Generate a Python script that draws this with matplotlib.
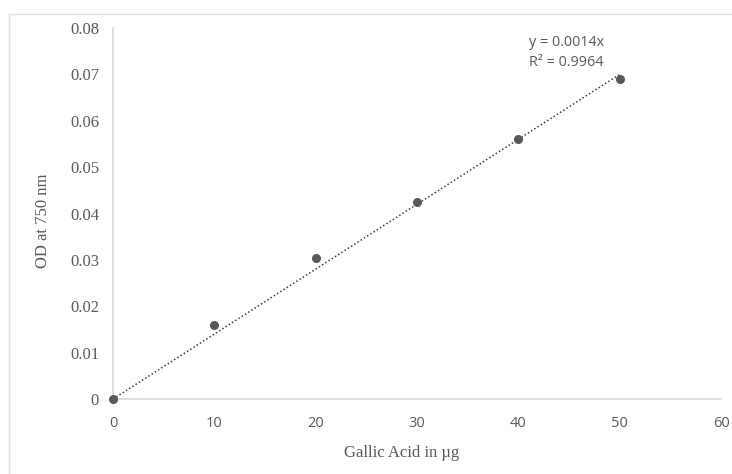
import matplotlib
matplotlib.use("Agg")
import matplotlib.pyplot as plt
from matplotlib.lines import Line2D
import numpy as np

x_vals = [0, 10, 20, 30, 40, 50]
y_vals = [0.0, 0.016, 0.0305, 0.0425, 0.056, 0.069]
slope = 0.0014
eq_text = "y = 0.0014x"
r2_text = "R² = 0.9964"
x_ticks = [0, 10, 20, 30, 40, 50, 60]
y_ticks = [0, 0.01, 0.02, 0.03, 0.04, 0.05, 0.06, 0.07, 0.08]
y_tick_labels = ["0", "0.01", "0.02", "0.03", "0.04", "0.05", "0.06", "0.07", "0.08"]

fig = plt.figure(figsize=(7.32, 4.74), dpi=100)
ax = fig.add_axes([113/732, 1-399/474, (721-113)/732, (399-28)/474])

grey_text = "#595959"
axis_col = "#d9d9d9"

# trendline
tx = np.array([0, 50])
ax.plot(tx, slope*tx, linestyle=(0, (1, 1.5)), color="#404040", linewidth=1.1, zorder=2)
ax.plot(x_vals, y_vals, "o", color="#595959", markersize=5.5, zorder=3, clip_on=False)

ax.set_xlim(0, 60)
ax.set_ylim(0, 0.08)
ax.set_xticks(x_ticks)
ax.set_yticks(y_ticks)
ax.set_yticklabels(y_tick_labels)
for s in ["top", "right"]:
    ax.spines[s].set_visible(False)
for s in ["left", "bottom"]:
    ax.spines[s].set_color(axis_col)
    ax.spines[s].set_linewidth(1.2)
ax.tick_params(axis="both", length=0)
ax.tick_params(axis="x", pad=12, labelsize=10.5, labelcolor=grey_text)
ax.tick_params(axis="y", pad=10, labelsize=12, labelcolor=grey_text)
for lab in ax.get_xticklabels():
    lab.set_fontfamily("Open Sans")
for lab in ax.get_yticklabels():
    lab.set_fontfamily("Liberation Serif")

ax.set_xlabel("Gallic Acid in µg", fontfamily="Liberation Serif", fontsize=12, color=grey_text)
ax.set_ylabel("OD at 750 nm", fontfamily="Liberation Serif", fontsize=12, color=grey_text)
ax.xaxis.set_label_coords(402/732, 1-453/474, transform=fig.transFigure)
ax.xaxis.label.set_va("center")
ax.yaxis.set_label_coords(43/732, 1-221/474, transform=fig.transFigure)
ax.yaxis.label.set_va("center")

ax.text(529/732, 1-42/474, eq_text, transform=fig.transFigure, fontfamily="Open Sans",
        fontsize=10.4, color=grey_text, va="center", ha="left")
ax.text(529/732, 1-62/474, r2_text, transform=fig.transFigure, fontfamily="Open Sans",
        fontsize=10.4, color=grey_text, va="center", ha="left")

# chart area border
fig.add_artist(Line2D([9/732, 9/732], [0, 1-14/474], transform=fig.transFigure, color="#e0e0e0", linewidth=1))
fig.add_artist(Line2D([9/732, 1], [1-14/474, 1-14/474], transform=fig.transFigure, color="#e0e0e0", linewidth=1))

fig.savefig("out.png", dpi=100)
